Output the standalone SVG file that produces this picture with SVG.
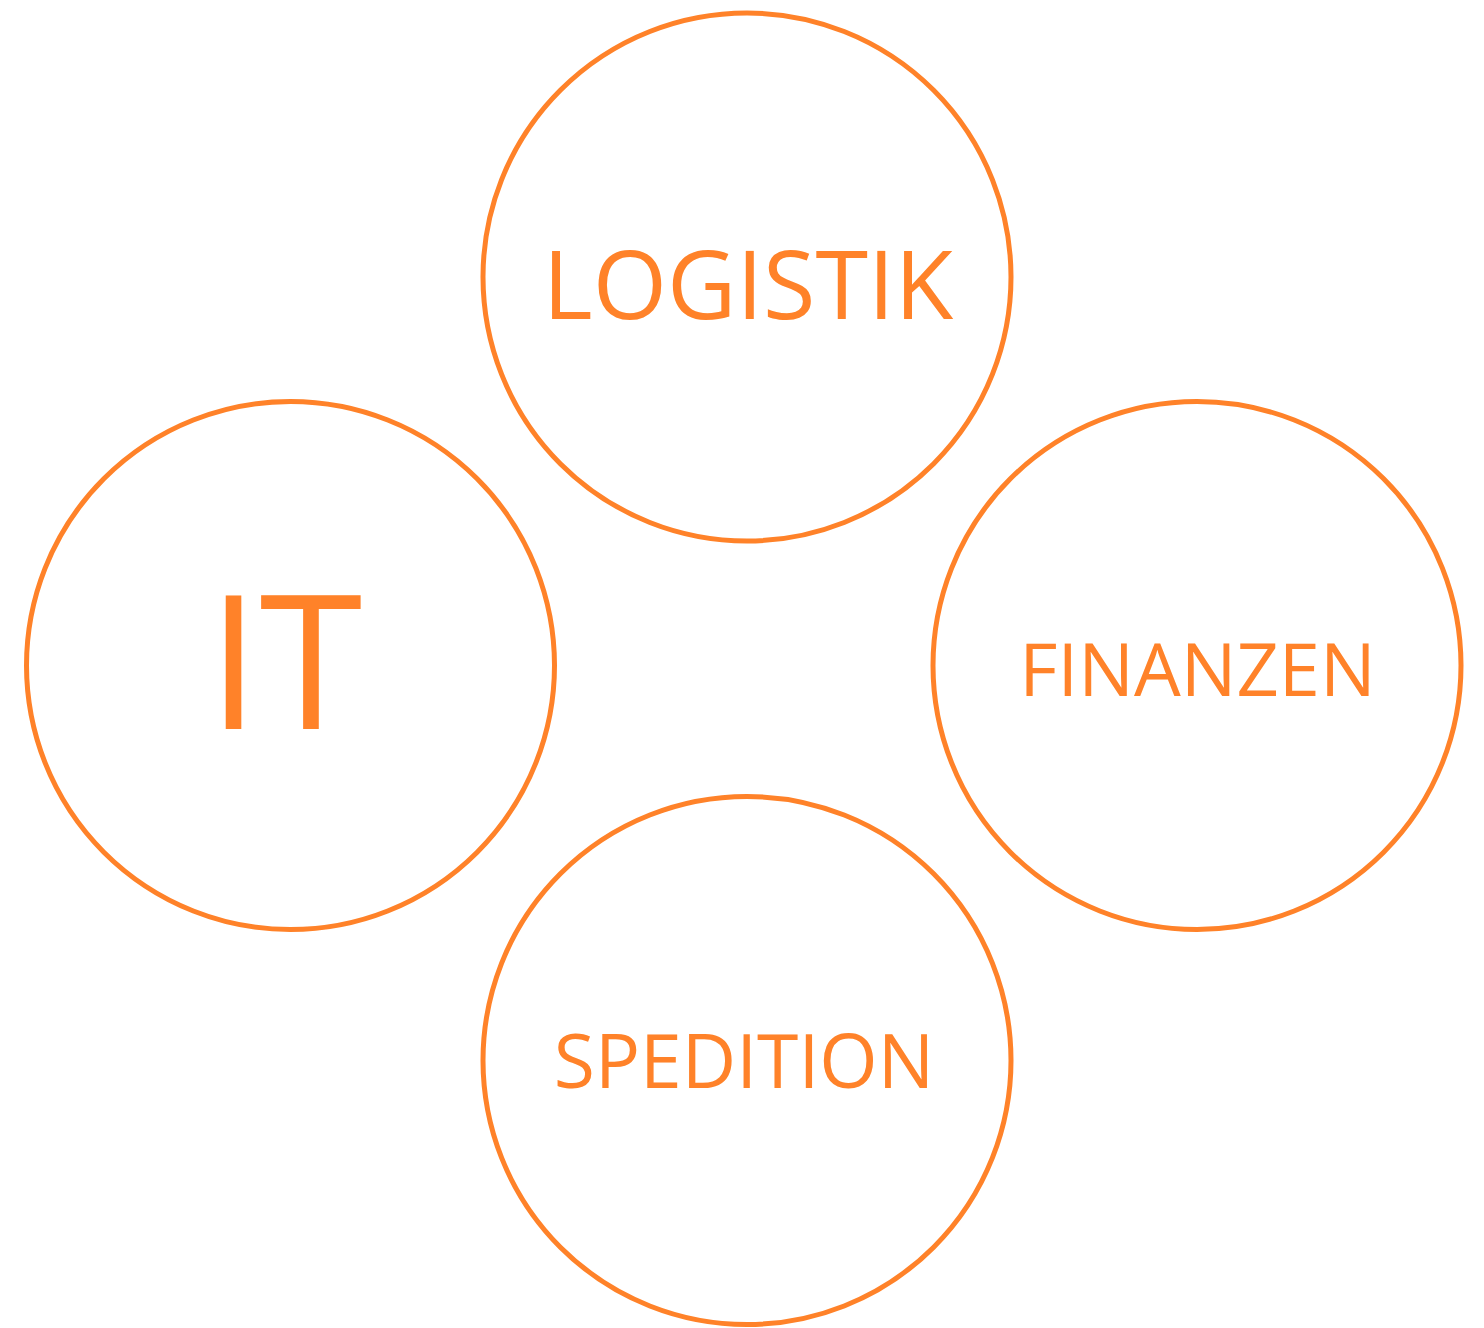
<svg xmlns="http://www.w3.org/2000/svg" width="1484" height="1328" viewBox="0 0 1484 1328">
<style>
.c{fill:#ffffff;stroke:#FF8229;stroke-width:5}
.t{fill:#FF8229;font-family:"Open Sans","Noto Sans",sans-serif;text-anchor:middle}
</style>
<rect width="1484" height="1328" fill="#ffffff"/>
<g id="connectors"></g>
<g id="logistik"><circle class="c" cx="747" cy="277" r="264"/><text class="t" x="748" y="319" font-size="95.5">LOGISTIK</text></g>
<g id="it"><circle class="c" cx="290.5" cy="665.5" r="264"/><text class="t" x="285" y="729" font-size="187">IT</text></g>
<g id="finanzen"><circle class="c" cx="1197" cy="665.5" r="264"/><text class="t" x="1197.5" y="696" font-size="74">FINANZEN</text></g>
<g id="spedition"><circle class="c" cx="747" cy="1060.5" r="264"/><text class="t" x="744" y="1088" font-size="75">SPEDITION</text></g>
</svg>
